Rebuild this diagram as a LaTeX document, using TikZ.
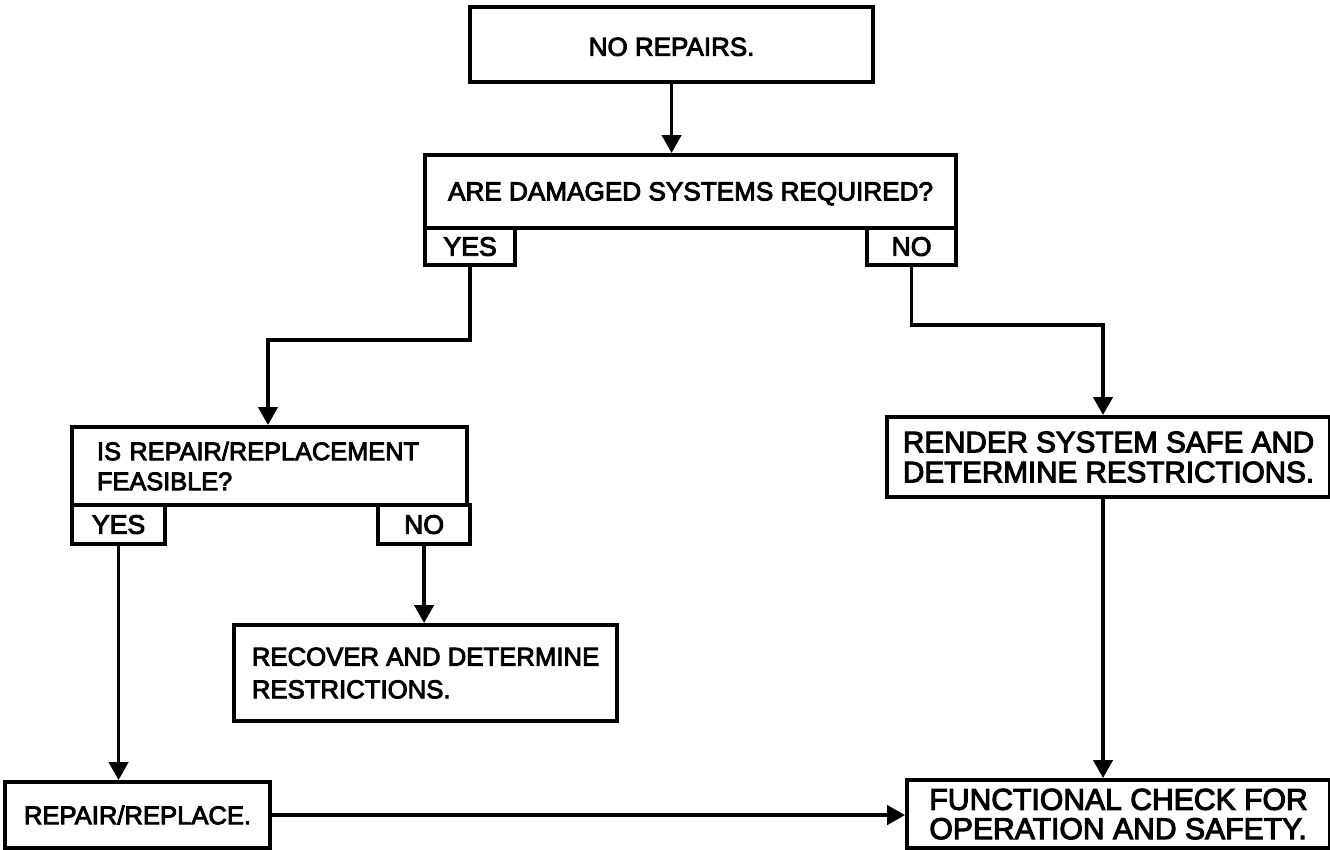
\documentclass[tikz,border=0pt]{standalone}
\usepackage{fontspec}
\setmainfont{Liberation Sans}[FakeBold=3.5]
\usetikzlibrary{arrows.meta,calc}

\newcommand{\fsize}[2]{\fontsize{#1}{#2}\selectfont}
% box of given size (in px units) whose top-left corner is placed at the node position
\tikzset{
  frame/.style={draw, line width=3.1pt, anchor=north west, inner xsep=0pt, inner ysep=0pt,
                align=center, font=\fsize{20pt}{22.5pt}},
  tab/.style={frame, font=\fsize{20pt}{22pt}},
  bsz/.style 2 args={minimum width=#1*0.75pt, minimum height=#2*0.75pt},
  conn/.style={line width=2.6pt},
  arr/.style={conn, -{Triangle[width=14.5pt,length=13.5pt]}},
}

\begin{document}
\begin{tikzpicture}[x=0.75pt,y=-0.75pt]
\useasboundingbox (0,0) rectangle (1330,849);

% decision and action boxes
\node[frame, bsz={403}{75}, font=\fsize{19.5pt}{22pt}, text height=17pt] (b1) at (468,5) {NO REPAIRS.};
\node[frame, bsz={531}{73}, font=\fsize{19.6pt}{22pt}, text height=17pt] (b2) at (423,153) {ARE DAMAGED SYSTEMS REQUIRED?};
\node[tab, bsz={90}{37}] (y1) at (423,226) {YES};
\node[tab, bsz={89}{37}] (n1) at (865,226) {NO};

\node[frame, bsz={395}{78}, font=\fsize{19pt}{22.5pt}, align=left,
      inner xsep=18.75pt, text width=258.75pt] (b3) at (70,425)
  {IS REPAIR/REPLACEMENT\\FEASIBLE?};
\node[tab, bsz={93}{39}] (y2) at (70,503) {YES};
\node[tab, bsz={92}{39}] (n2) at (376,503) {NO};

\node[frame, bsz={443}{80}, font=\fsize{22.2pt}{22.5pt}, align=left] (b4) at (885,415)
  {RENDER SYSTEM SAFE AND\\DETERMINE RESTRICTIONS.};

\node[frame, bsz={383}{96}, font=\fsize{19.3pt}{24.5pt}, align=left] (b6) at (232,623)
  {RECOVER AND DETERMINE\\RESTRICTIONS.};

\node[frame, bsz={265}{66}, font=\fsize{19.2pt}{22pt}] (b5) at (3,780) {REPAIR/REPLACE.};
\node[frame, bsz={423}{68}, font=\fsize{22.6pt}{22pt}, align=left] (b7) at (905,778)
  {FUNCTIONAL CHECK FOR\\OPERATION AND SAFETY.};

% junction points of the elbow connectors
\coordinate (j1) at (268,340);
\coordinate (j2) at (1103,325);

% connectors
\draw[arr] (b1.south) -- (b1.south |- b2.north);
\draw[arr] (y1.south) |- (j1) -- (j1 |- b3.north);
\draw[arr] (n1.south) |- (j2) -- (j2 |- b4.north);
\draw[arr] (y2.south) -- (y2.south |- b5.north);
\draw[arr] (n2.south) -- (n2.south |- b6.north);
\draw[arr] (j2 |- b4.south) -- (j2 |- b7.north);
\draw[arr] (b5.east) -- (b5.east -| b7.west);
\end{tikzpicture}
\end{document}
